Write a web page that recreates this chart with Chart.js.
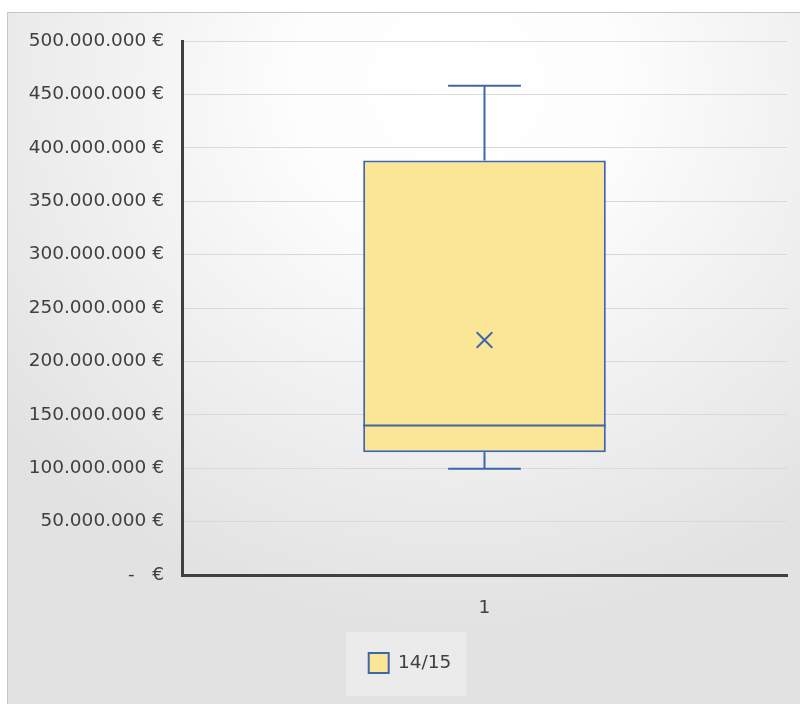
<!DOCTYPE html>
<html>
<head>
<meta charset="utf-8">
<script src="https://cdn.jsdelivr.net/npm/chart.js@4.4.1/dist/chart.umd.min.js"></script>
<style>
  html, body { margin: 0; padding: 0; background: #ffffff; }
  #wrap { position: relative; width: 800px; height: 704px; overflow: hidden; }
  #panel {
    position: absolute; left: 7px; top: 12px; width: 800px; height: 700px;
    border: 1px solid #c6c6c6;
    background: radial-gradient(ellipse 72% 78% at 56% 10%, #ffffff 0%, #fdfdfd 28%, #f1f1f1 60%, #e2e2e2 100%);
  }
  #chart { position: absolute; left: 0; top: 0; }
</style>
</head>
<body>
<div id="wrap">
  <div id="panel"></div>
  <canvas id="chart" width="800" height="704"></canvas>
</div>
<script>
// Category and series
const categories = ['1'];
const seriesName = '14/15';
// Five-number summary plus mean, in euros
const whiskerMin = [99500000];
const quartile1 = [115000000];
const medians = [140000000];
const quartile3 = [388000000];
const whiskerMax = [458000000];
const means = [220000000];

// Value axis
const yTickValues = [0, 50000000, 100000000, 150000000, 200000000, 250000000, 300000000, 350000000, 400000000, 450000000, 500000000];
const yTickLabels = ['-   €', '50.000.000 €', '100.000.000 €', '150.000.000 €', '200.000.000 €', '250.000.000 €', '300.000.000 €', '350.000.000 €', '400.000.000 €', '450.000.000 €', '500.000.000 €'];

const BLUE = '#3f66a9';
const FILL = '#fbe597';
const TEXT = '#404040';
const FONT = { family: 'DejaVu Sans', size: 18.5 };

// Median line, whiskers and caps for each box, placed with the value scale
const boxExtras = {
  id: 'boxExtras',
  afterDatasetsDraw(chart) {
    const meta = chart.getDatasetMeta(1);
    const y = chart.scales.y;
    const ctx = chart.ctx;
    ctx.save();
    ctx.strokeStyle = BLUE;
    ctx.lineWidth = 2;
    meta.data.forEach((bar, i) => {
      const half = bar.width / 2;
      const capHalf = bar.width * 0.15;
      const yMed = y.getPixelForValue(medians[i]);
      const yQ1 = y.getPixelForValue(quartile1[i]);
      const yQ3 = y.getPixelForValue(quartile3[i]);
      const yMin = y.getPixelForValue(whiskerMin[i]);
      const yMax = y.getPixelForValue(whiskerMax[i]);
      ctx.beginPath();
      ctx.moveTo(bar.x - half, yMed); ctx.lineTo(bar.x + half, yMed);
      ctx.moveTo(bar.x, yQ3); ctx.lineTo(bar.x, yMax);
      ctx.moveTo(bar.x - capHalf, yMax); ctx.lineTo(bar.x + capHalf, yMax);
      ctx.moveTo(bar.x, yQ1); ctx.lineTo(bar.x, yMin);
      ctx.moveTo(bar.x - capHalf, yMin); ctx.lineTo(bar.x + capHalf, yMin);
      ctx.stroke();
    });
    ctx.restore();
  }
};

// Legend sits a little right of centre, on a soft panel
const legendPanel = {
  id: 'legendPanel',
  afterLayout(chart) {
    const lg = chart.legend;
    if (!lg) return;
    lg.left += 16;
    lg.right += 16;
  },
  beforeDraw(chart) {
    const lg = chart.legend;
    if (!lg || !lg.lineWidths) return;
    const pad = lg.options.labels.padding;
    const itemsLeft = (lg.left + pad + lg.right - lg.lineWidths[0]) / 2;
    const itemsRight = itemsLeft + lg.lineWidths[0] - pad;
    const ctx = chart.ctx;
    ctx.save();
    ctx.fillStyle = 'rgba(236,236,236,0.9)';
    ctx.fillRect(itemsLeft - 23, lg.top + 1, itemsRight - itemsLeft + 38, 64);
    ctx.restore();
  }
};

new Chart(document.getElementById('chart'), {
  type: 'bar',
  data: {
    labels: categories,
    datasets: [
      {
        type: 'line',
        label: 'Mittelwert',
        data: means,
        showLine: false,
        pointStyle: 'crossRot',
        pointRadius: 11,
        pointBorderWidth: 2,
        borderColor: BLUE,
        backgroundColor: BLUE,
        order: 0
      },
      {
        label: seriesName,
        data: quartile1.map((q, i) => [q, quartile3[i]]),
        backgroundColor: FILL,
        borderColor: BLUE,
        borderWidth: 2,
        borderSkipped: false,
        barPercentage: 0.401,
        categoryPercentage: 1,
        order: 1
      }
    ]
  },
  options: {
    responsive: false,
    animation: false,
    layout: { padding: { top: 41, right: 12, bottom: 21, left: 0 } },
    plugins: {
      tooltip: { enabled: false },
      legend: {
        position: 'bottom',
        labels: {
          filter: item => item.datasetIndex === 1,
          boxWidth: 20,
          boxHeight: 20,
          padding: 22,
          color: TEXT,
          font: FONT
        }
      }
    },
    scales: {
      x: {
        grid: { display: false, drawTicks: false },
        border: { display: true, color: '#404040', width: 3 },
        ticks: { color: TEXT, font: FONT, padding: 22 },
        afterFit(scale) { scale.height = 56; }
      },
      y: {
        min: 0,
        max: 500000000,
        afterBuildTicks(scale) { scale.ticks = yTickValues.map(v => ({ value: v })); },
        grid: { color: '#d9d9d9', lineWidth: 1, drawTicks: false },
        border: { display: true, color: '#404040', width: 3 },
        ticks: {
          color: TEXT,
          font: FONT,
          padding: 18,
          callback: (v, i) => yTickLabels[i]
        },
        afterFit(scale) { scale.width = 182; }
      }
    }
  },
  plugins: [legendPanel, boxExtras]
});
</script>
</body>
</html>
